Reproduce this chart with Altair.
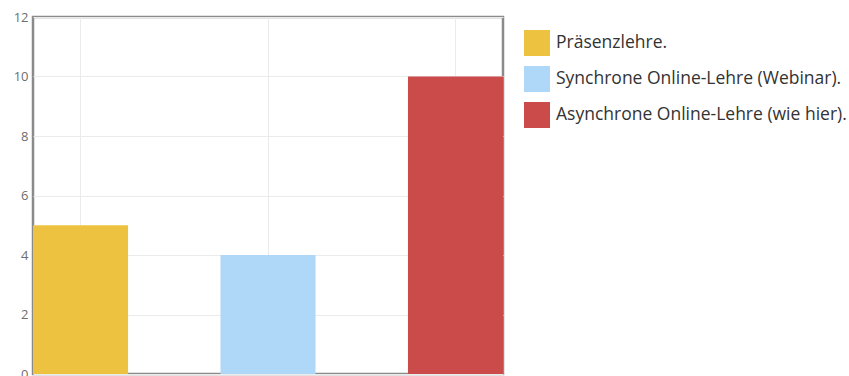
import altair as alt
import pandas as pd

categories = ["Präsenzlehre.", "Synchrone Online-Lehre (Webinar).", "Asynchrone Online-Lehre (wie hier)."]
values = [5, 4, 10]
colors = ["#edc240", "#afd8f8", "#cb4b4b"]
y_ticks = [0, 2, 4, 6, 8, 10, 12]

df = pd.DataFrame({"cat": categories, "val": values})

chart = alt.Chart(df).mark_bar().encode(
    x=alt.X("cat:N", sort=categories,
            scale=alt.Scale(paddingInner=0.493, paddingOuter=0),
            axis=alt.Axis(title=None, labels=False, ticks=False, domain=False,
                          grid=True, bandPosition=0.5, gridColor="#ebebeb", gridWidth=1)),
    y=alt.Y("val:Q", scale=alt.Scale(domain=[0, 12], nice=False),
            axis=alt.Axis(title=None, values=y_ticks, ticks=False, domain=False,
                          grid=True, gridColor="#ebebeb", gridWidth=1,
                          labelColor="#6e6e6e", labelFont="Open Sans", labelFontSize=13,
                          labelPadding=5)),
    color=alt.Color("cat:N", sort=categories,
                    scale=alt.Scale(domain=categories, range=colors),
                    legend=alt.Legend(title=None, orient="none", legendX=491, legendY=13,
                                      symbolType="square", symbolSize=676,
                                      symbolStrokeWidth=0, rowPadding=10,
                                      labelOffset=6, labelFont="Open Sans",
                                      labelFontSize=17.5, labelColor="#333333",
                                      labelLimit=400)),
).properties(
    width=470, height=357,
    background="white",
    autosize=alt.AutoSizeParams(type="none"),
    padding={"left": 33, "top": 17, "right": 346, "bottom": 2},
).configure_view(
    stroke="#8a8a8a", strokeWidth=2.5
)

chart.save("out.html", embed_options={"renderer": "svg", "actions": False})
